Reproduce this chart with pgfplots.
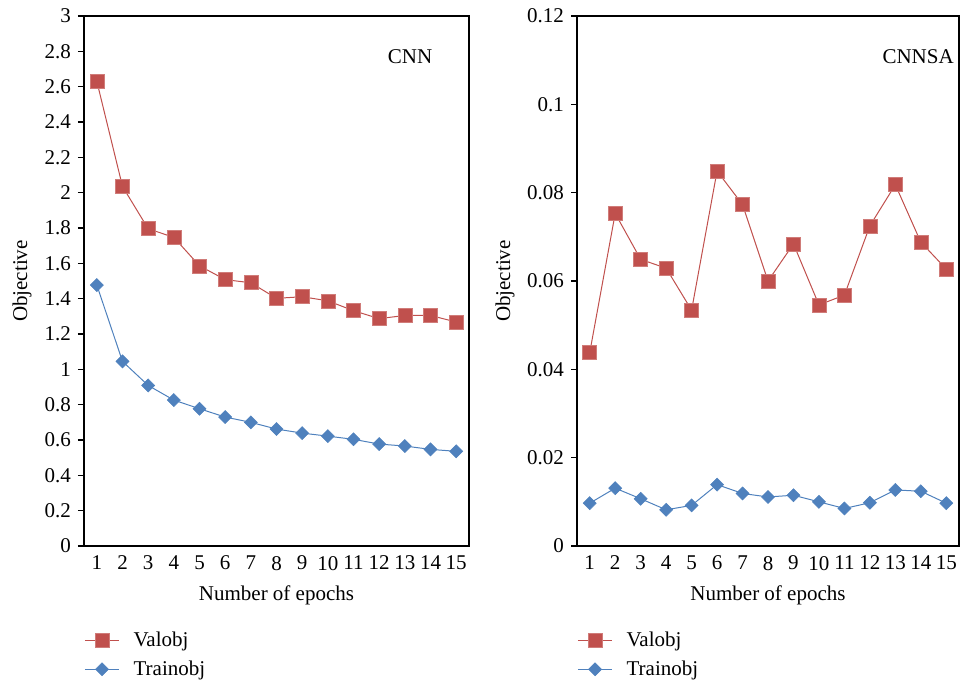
\documentclass[border=0pt]{standalone}
\usepackage{fontspec}
\setmainfont{Liberation Serif}
\usepackage{pgfplots}
\pgfplotsset{compat=1.18}

\definecolor{valred}{RGB}{192,80,77}
\definecolor{trainblue}{RGB}{79,129,189}

\newcommand{\chartfont}{\fontsize{10.5}{12.5}\selectfont}

\pgfplotsset{
  objaxis/.style={
    scale only axis,
    height=265pt,
    xmin=0.5, xmax=15.5, ymin=0,
    xtick={1,...,15},
    axis line style={line width=0.6pt},
    tick align=outside,
    major tick length=3pt,
    x tick style={draw=none},
    y tick style={line width=0.6pt, black},
    xtick pos=bottom, ytick pos=left,
    tick label style={font=\chartfont},
    xticklabel style={yshift=1.5pt},
    label style={font=\chartfont},
    /pgf/number format/assume math mode=true,
    scaled y ticks=false,
    yticklabel style={/pgf/number format/fixed, /pgf/number format/precision=2},
    xlabel={Number of epochs},
    xlabel style={at={(axis description cs:0.5,-0.094)}, anchor=center},
    ylabel={Objective},
    legend style={draw=none, fill=none, font=\chartfont, anchor=north west,
      row sep=1.5pt, inner sep=1pt,
      /tikz/every odd column/.append style={column sep=5pt}},
    legend cell align=left,
  },
  val/.style={valred, line width=0.5pt, mark=square*, mark size=3.5pt,
    mark options={fill=valred, draw=valred!75!white, line width=0.3pt}},
  train/.style={trainblue, line width=0.5pt, mark=square*, mark size=2.3pt,
    mark options={rotate=45, fill=trainblue, draw=trainblue, line width=0.3pt}},
}

\begin{document}
\begin{tikzpicture}
\path[use as bounding box] (0,0) rectangle (481.5pt,-341pt);

% CNN
\begin{axis}[objaxis,
  at={(42pt,-273pt)}, anchor=south west,
  width=192.5pt,
  ymax=3, ytick={0,0.2,...,3.01},
  ylabel style={at={(axis description cs:-0.161,0.5)}, anchor=center},
  legend style={at={(axis description cs:-0.005,-0.15)}},
]
\addplot[val] coordinates {
  (1,2.63) (2,2.035) (3,1.796) (4,1.747) (5,1.586) (6,1.508) (7,1.49)
  (8,1.402) (9,1.411) (10,1.388) (11,1.332) (12,1.287) (13,1.305)
  (14,1.305) (15,1.268)
};
\addplot[train] coordinates {
  (1,1.477) (2,1.045) (3,0.909) (4,0.826) (5,0.777) (6,0.730) (7,0.700)
  (8,0.662) (9,0.639) (10,0.622) (11,0.604) (12,0.577) (13,0.566)
  (14,0.547) (15,0.536)
};
\legend{Valobj, Trainobj}
\node[font=\chartfont] at (axis description cs:0.847,0.923) {CNN};
\end{axis}

% CNNSA
\begin{axis}[objaxis,
  at={(288.5pt,-273pt)}, anchor=south west,
  width=191pt,
  ymax=0.12, ytick={0,0.02,0.04,0.06,0.08,0.1,0.12},
  ylabel style={at={(axis description cs:-0.188,0.5)}, anchor=center},
  legend style={at={(axis description cs:-0.005,-0.15)}},
]
\addplot[val] coordinates {
  (1,0.0438) (2,0.0753) (3,0.0649) (4,0.0629) (5,0.0534) (6,0.0849)
  (7,0.0773) (8,0.0600) (9,0.0684) (10,0.0546) (11,0.0568) (12,0.0725)
  (13,0.0818) (14,0.0688) (15,0.0627)
};
\addplot[train] coordinates {
  (1,0.0097) (2,0.0131) (3,0.0107) (4,0.0082) (5,0.0092) (6,0.0139)
  (7,0.0119) (8,0.0111) (9,0.0115) (10,0.0100) (11,0.0085) (12,0.0098)
  (13,0.0127) (14,0.0124) (15,0.0097)
};
\legend{Valobj, Trainobj}
\node[font=\chartfont] at (axis description cs:0.893,0.923) {CNNSA};
\end{axis}
\end{tikzpicture}
\end{document}
